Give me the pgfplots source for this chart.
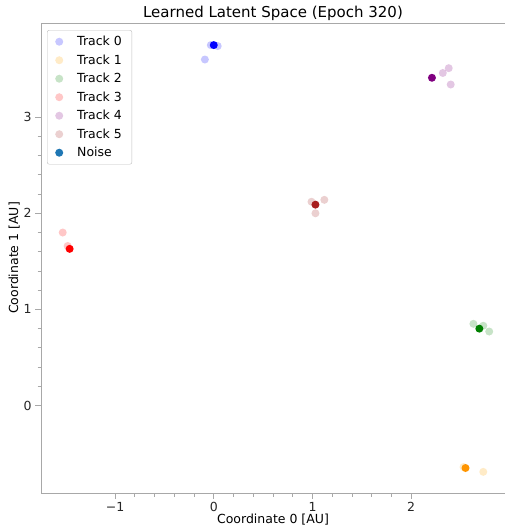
\documentclass[border=0pt]{standalone}
\usepackage{fontspec}
\setmainfont{DejaVu Sans}
\usepackage{pgfplots}
\pgfplotsset{compat=1.18}
\definecolor{noiseblue}{HTML}{1F77B4}
\definecolor{mplorange}{HTML}{FFA500}
\definecolor{mplgreen}{HTML}{008000}
\definecolor{mplred}{HTML}{FF0000}
\definecolor{mplpurple}{HTML}{800080}
\definecolor{mplbrown}{HTML}{A52A2A}
\definecolor{darkbrown}{HTML}{A81E1E}
\definecolor{mplblue}{HTML}{0000FF}
\definecolor{darkorange}{HTML}{FF9500}
\definecolor{spine}{HTML}{A8A8A8}
\pgfplotsset{
  light/.style={color=#1, mark options={draw opacity=0, fill=#1, fill opacity=0.22}},
  dark/.style={forget plot, color=#1, mark options={draw opacity=0, fill=#1, fill opacity=1}},
}
\begin{document}
\begin{tikzpicture}
\useasboundingbox (-41pt,-33pt) rectangle (465pt,493pt);
\begin{axis}[
  at={(0pt,0pt)}, anchor=south west,
  scale only axis, width=464pt, height=470pt,
  xmin=-1.75, xmax=2.95, ymin=-0.91, ymax=3.98,
  axis x line*=bottom, axis y line*=left,
  axis line style={draw=spine, line width=0.9pt, -},
  after end axis/.code={\draw[spine, line width=0.9pt] (rel axis cs:0,1) -- (rel axis cs:1,1);},
  xtick={-1,0,1,2}, xticklabels={−1,0,1,2},
  ytick={0,1,2,3}, yticklabels={0,1,2,3},
  minor x tick num=4, minor y tick num=4,
  tick align=outside,
  major tick length=6pt, minor tick length=3.5pt,
  every tick/.style={spine, line width=0.9pt},
  tick label style={font=\fontsize{12.5}{14}\selectfont, text=black!85},
  title={Learned Latent Space (Epoch 320)},
  title style={font=\fontsize{15}{17}\selectfont, yshift=-7pt},
  xlabel={Coordinate 0 [AU]}, ylabel={Coordinate 1 [AU]},
  label style={font=\fontsize{12.5}{14}\selectfont},
  xlabel style={yshift=5pt},
  ylabel style={yshift=-3pt},
  legend style={at={(0.013,0.985)}, anchor=north west, draw=black!25,
    rounded corners=2pt, font=\fontsize{12.5}{14}\selectfont,
    row sep=3.5pt, column sep=12pt, inner xsep=8pt, inner ysep=4pt},
  legend cell align=left,
  every axis plot/.append style={only marks, mark=*, mark size=4pt},
]
\addplot[light=mplblue] coordinates {(-0.09,3.60) (-0.03,3.75) (0.04,3.74)};
\addlegendentry{Track 0}
\addplot[light=mplorange] coordinates {(2.53,-0.64) (2.73,-0.69)};
\addlegendentry{Track 1}
\addplot[light=mplgreen] coordinates {(2.63,0.85) (2.73,0.83) (2.79,0.77)};
\addlegendentry{Track 2}
\addplot[light=mplred] coordinates {(-1.53,1.80) (-1.48,1.66)};
\addlegendentry{Track 3}
\addplot[light=mplpurple] coordinates {(2.32,3.46) (2.38,3.51) (2.40,3.34)};
\addlegendentry{Track 4}
\addplot[light=mplbrown] coordinates {(0.99,2.12) (1.12,2.14) (1.03,2.00)};
\addlegendentry{Track 5}
\addlegendimage{only marks, mark=*, mark size=4pt, color=noiseblue, mark options={draw opacity=0, fill=noiseblue}}
\addlegendentry{Noise}
\addplot[dark=mplblue] coordinates {(0.00,3.75)};
\addplot[dark=darkorange] coordinates {(2.55,-0.65)};
\addplot[dark=mplgreen] coordinates {(2.69,0.80)};
\addplot[dark=mplred] coordinates {(-1.46,1.63)};
\addplot[dark=mplpurple] coordinates {(2.21,3.41)};
\addplot[dark=darkbrown] coordinates {(1.03,2.09)};
\end{axis}
\end{tikzpicture}
\end{document}
